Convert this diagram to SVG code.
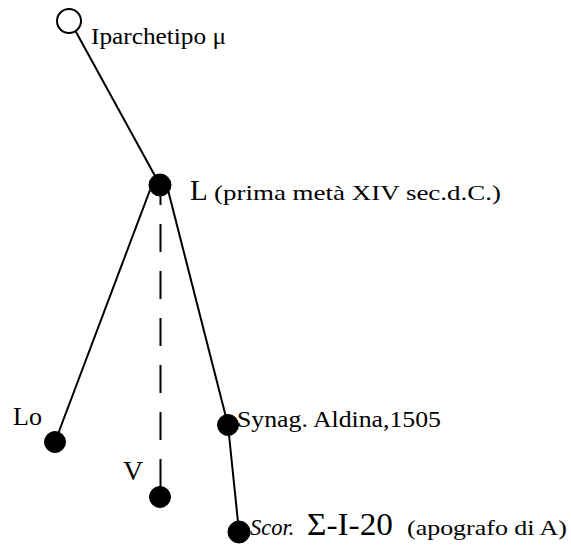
<svg xmlns="http://www.w3.org/2000/svg" width="571" height="545" viewBox="0 0 571 545">
<style>
.ln{stroke:#000;stroke-width:2;fill:none}
.dash{stroke-dasharray:28 19;stroke-dashoffset:8}
.nd{fill:#000;stroke:#000;stroke-width:1}
.open{fill:#fff;stroke:#000;stroke-width:2}
text{font-family:"Liberation Serif","Times New Roman",serif;fill:#000}
</style>
<rect width="571" height="545" fill="#fff"/>
<g id="connectors">
<line class="ln" x1="70" y1="21" x2="160" y2="185"/>
<line class="ln" x1="150" y1="190" x2="55" y2="442"/>
<line class="ln dash" x1="160.5" y1="185" x2="160.5" y2="497"/>
<line class="ln" x1="168" y1="190" x2="228" y2="425"/>
<line class="ln" x1="228" y1="425" x2="239" y2="532"/>
</g>
<g id="node-mu">
<circle class="open" cx="69" cy="21" r="12"/>
<text x="91" y="44" font-size="24" textLength="135" lengthAdjust="spacingAndGlyphs">Iparchetipo μ</text>
</g>
<g id="node-L">
<circle class="nd" cx="160" cy="185" r="11"/>
<text x="190" y="200" font-size="29">L</text>
<text x="214" y="200" font-size="22" textLength="287" lengthAdjust="spacingAndGlyphs">(prima metà XIV sec.d.C.)</text>
</g>
<g id="node-Lo">
<circle class="nd" cx="55" cy="442" r="10.5"/>
<text x="13" y="425" font-size="26">Lo</text>
</g>
<g id="node-Synag">
<circle class="nd" cx="228" cy="425" r="10.5"/>
<text x="237" y="427" font-size="23" textLength="204" lengthAdjust="spacingAndGlyphs">Synag. Aldina,1505</text>
</g>
<g id="node-V">
<circle class="nd" cx="160" cy="497" r="10.5"/>
<text x="123" y="480" font-size="28">V</text>
</g>
<g id="node-Scor">
<circle class="nd" cx="239" cy="532" r="11"/>
<text x="250" y="535" font-size="22.5" font-style="italic">Scor.</text>
<text x="307" y="535" font-size="31" textLength="86" lengthAdjust="spacingAndGlyphs">Σ-I-20</text>
<text x="407" y="535" font-size="22" textLength="160" lengthAdjust="spacingAndGlyphs">(apografo di A)</text>
</g>
</svg>
